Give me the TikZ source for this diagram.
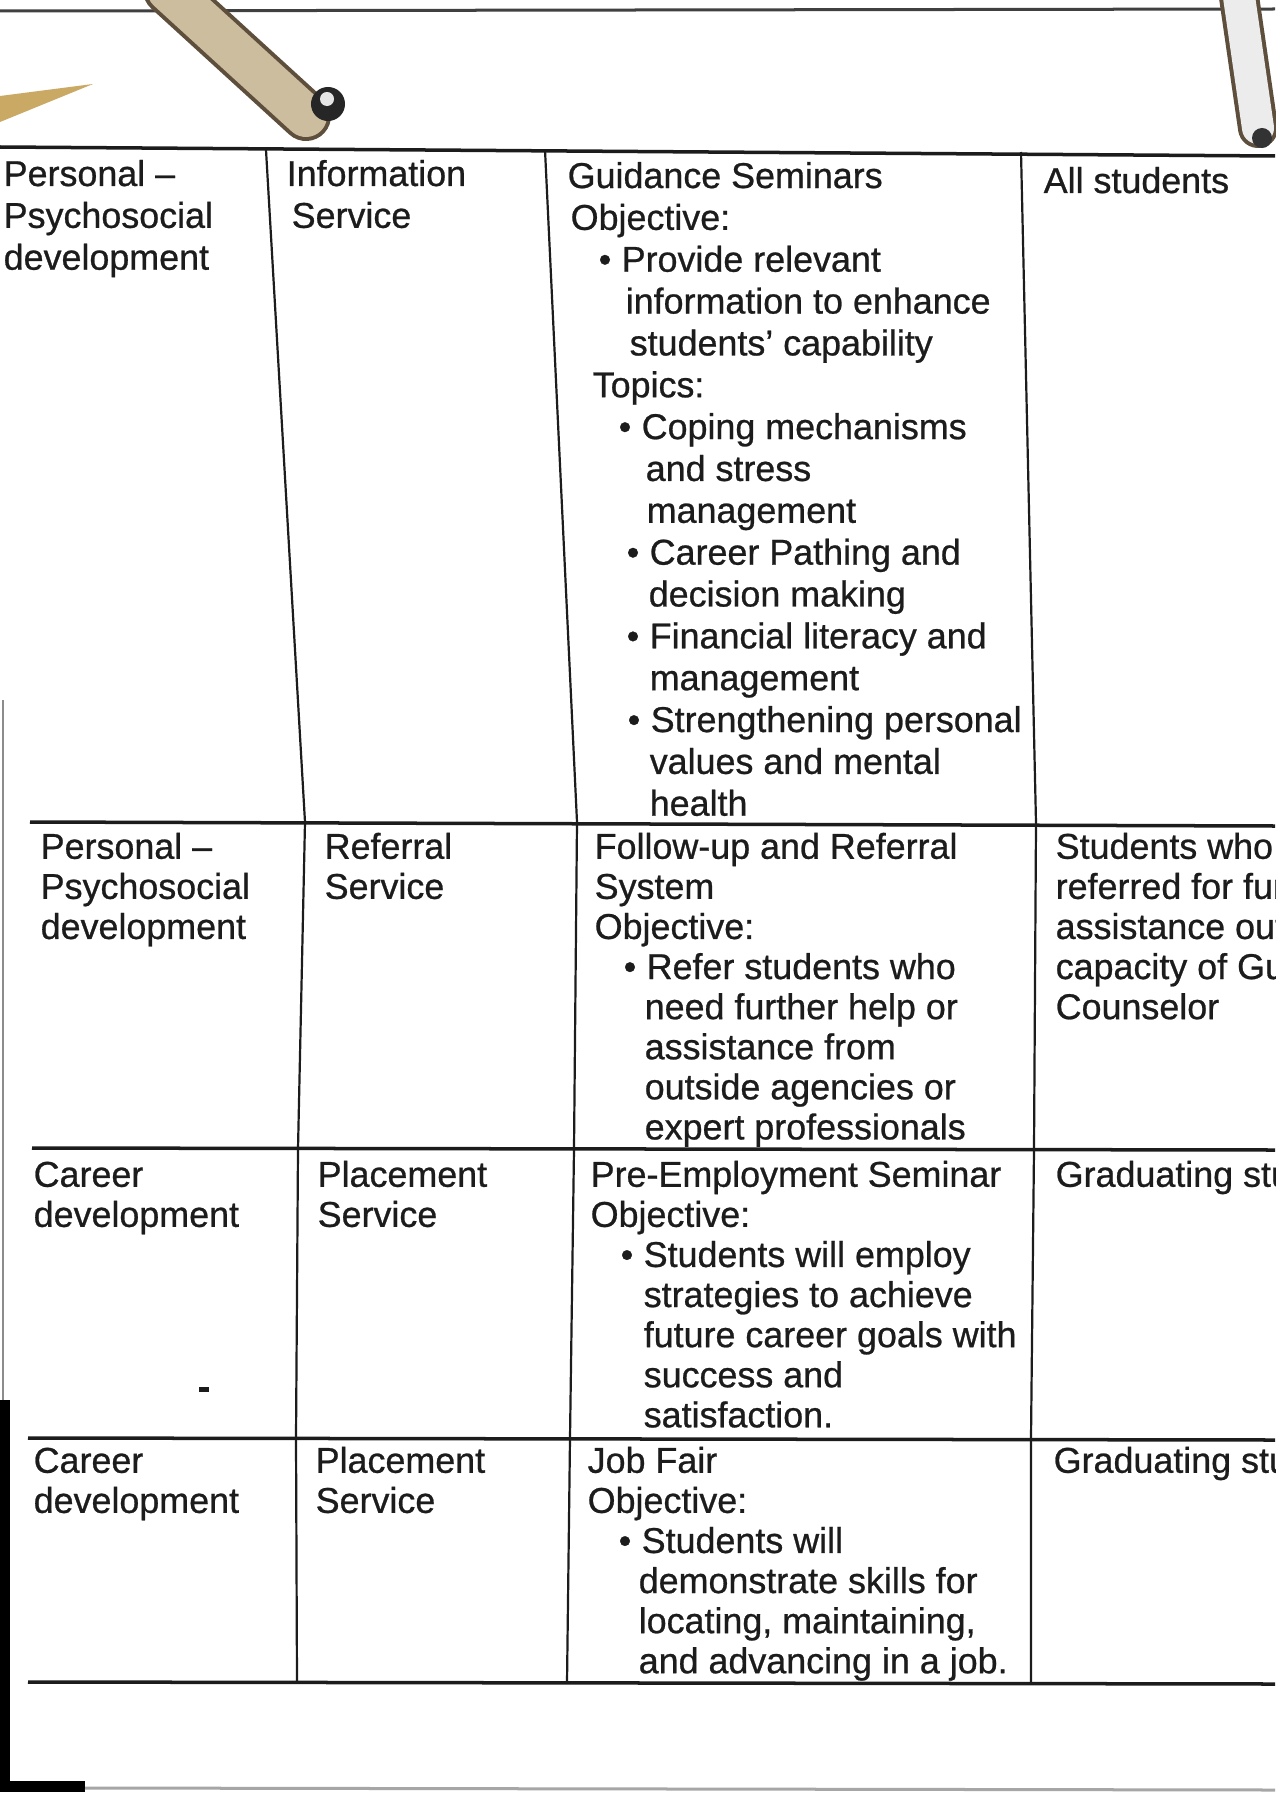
\documentclass[tikz,border=0pt]{standalone}
\usepackage{fontspec}
\setmainfont{Liberation Sans}[FakeBold=0.7]
\definecolor{ink}{HTML}{1C1C1C}
\definecolor{clipwood}{HTML}{CDBD9F}
\definecolor{clipedge}{HTML}{5E4E3C}
\definecolor{streak}{HTML}{C9A964}
\tikzset{
  cell/.style={anchor=north west, inner sep=0pt, align=left, text=ink, font=\fontsize{10.2}{11.4}\selectfont},
  cellone/.style={cell, font=\fontsize{10.2}{11.9}\selectfont},
  hrule/.style={ink, line width=0.035cm},
  vrule/.style={ink, line width=0.022cm}
}
\newcommand{\bul}{\makebox[0.23cm][l]{\textbullet}}
\newcommand{\ind}[1]{\hspace*{#1cm}}
\begin{document}
\begin{tikzpicture}[x=0.01cm, y=-0.01cm]
\useasboundingbox (0,0) rectangle (1275,1800);
\fill[white] (0,0) rectangle (1275,1800);
\draw[black!75, line width=0.03cm] (0,11) -- (1275,9);
\draw[hrule] (0,147) -- (1275,156);
\draw[hrule] (30,822) -- (1275,826);
\draw[hrule] (32,1148) -- (1275,1150);
\draw[hrule] (28,1438) -- (1275,1440);
\draw[hrule] (28,1682) -- (1275,1684);
\draw[vrule] (266,150) -- (305,822) -- (298,1149) -- (296,1438) -- (297,1683);
\draw[vrule] (545,150) -- (577,822) -- (574,1149) -- (570,1438) -- (567,1683);
\draw[vrule] (1021,152) -- (1036,823) -- (1034,1149) -- (1031,1438) -- (1031,1683);
\draw[black!45, line width=0.02cm] (3,700) -- (3,1400);
\draw[black, line width=0.09cm] (5,1400) -- (5,1790);
\fill[black] (0,1781) rectangle (85,1792);
\draw[black!35, line width=0.03cm] (85,1788) -- (1275,1790);
\fill[ink] (199,1387) rectangle (209,1392);
\fill[streak] (0,96) -- (93,84) -- (0,122) -- cycle;
\draw[clipedge, line width=0.50cm, line cap=round] (168,-10) -- (306,116);
\draw[clipwood, line width=0.42cm, line cap=round] (168,-10) -- (306,116);
\fill[black!85] (328,104) circle (0.17cm);
\fill[gray!20] (327,99) circle (0.07cm);
\draw[clipedge, line width=0.40cm, line cap=round] (1238,-10) -- (1258,128);
\draw[gray!15, line width=0.32cm, line cap=round] (1238,-10) -- (1258,128);
\fill[black!80] (1262,138) circle (0.1cm);
\node[cellone] (infoarea) at (3,156) {\strut Personal --\\Psychosocial\\development};
\node[cellone] (infoservice) at (286,156) {\strut Information\\\ind{0.05}Service};
\node[cellone] (infoseminar) at (567,158) {\strut Guidance Seminars\\
\ind{0.03}Objective:\\
\ind{0.31}\bul Provide relevant\\
\ind{0.58}information to enhance\\
\ind{0.62}students’ capability\\
\ind{0.25}Topics:\\
\ind{0.51}\bul Coping mechanisms\\
\ind{0.78}and stress\\
\ind{0.79}management\\
\ind{0.59}\bul Career Pathing and\\
\ind{0.81}decision making\\
\ind{0.59}\bul Financial literacy and\\
\ind{0.82}management\\
\ind{0.60}\bul Strengthening personal\\
\ind{0.82}values and mental\\
\ind{0.82}health};
\node[cellone] (infowho) at (1043,163) {\strut All students};
\node[cell] (refarea) at (40,830) {\strut Personal --\\Psychosocial\\development};
\node[cell] (refservice) at (324,830) {\strut Referral\\Service};
\node[cell] (refsystem) at (594,830) {\strut Follow-up and Referral\\
System\\
Objective:\\
\ind{0.29}\bul Refer students who\\
\ind{0.50}need further help or\\
\ind{0.50}assistance from\\
\ind{0.50}outside agencies or\\
\ind{0.50}expert professionals};
\node[cell] (refwho) at (1055,830) {\strut Students who\\referred for fur\\assistance out\\capacity of Gu\\Counselor};
\node[cell] (prearea) at (33,1158) {\strut Career\\development};
\node[cell] (preservice) at (317,1158) {\strut Placement\\Service};
\node[cell] (preseminar) at (590,1158) {\strut Pre-Employment Seminar\\
Objective:\\
\ind{0.30}\bul Students will employ\\
\ind{0.53}strategies to achieve\\
\ind{0.53}future career goals with\\
\ind{0.53}success and\\
\ind{0.53}satisfaction.};
\node[cell] (prewho) at (1055,1158) {\strut Graduating stu};
\node[cell] (fairarea) at (33,1444) {\strut Career\\development};
\node[cell] (fairservice) at (315,1444) {\strut Placement\\Service};
\node[cell] (fairjob) at (587,1444) {\strut Job Fair\\
Objective:\\
\ind{0.31}\bul Students will\\
\ind{0.51}demonstrate skills for\\
\ind{0.51}locating, maintaining,\\
\ind{0.51}and advancing in a job.};
\node[cell] (fairwho) at (1053,1444) {\strut Graduating stu};
\end{tikzpicture}
\end{document}
